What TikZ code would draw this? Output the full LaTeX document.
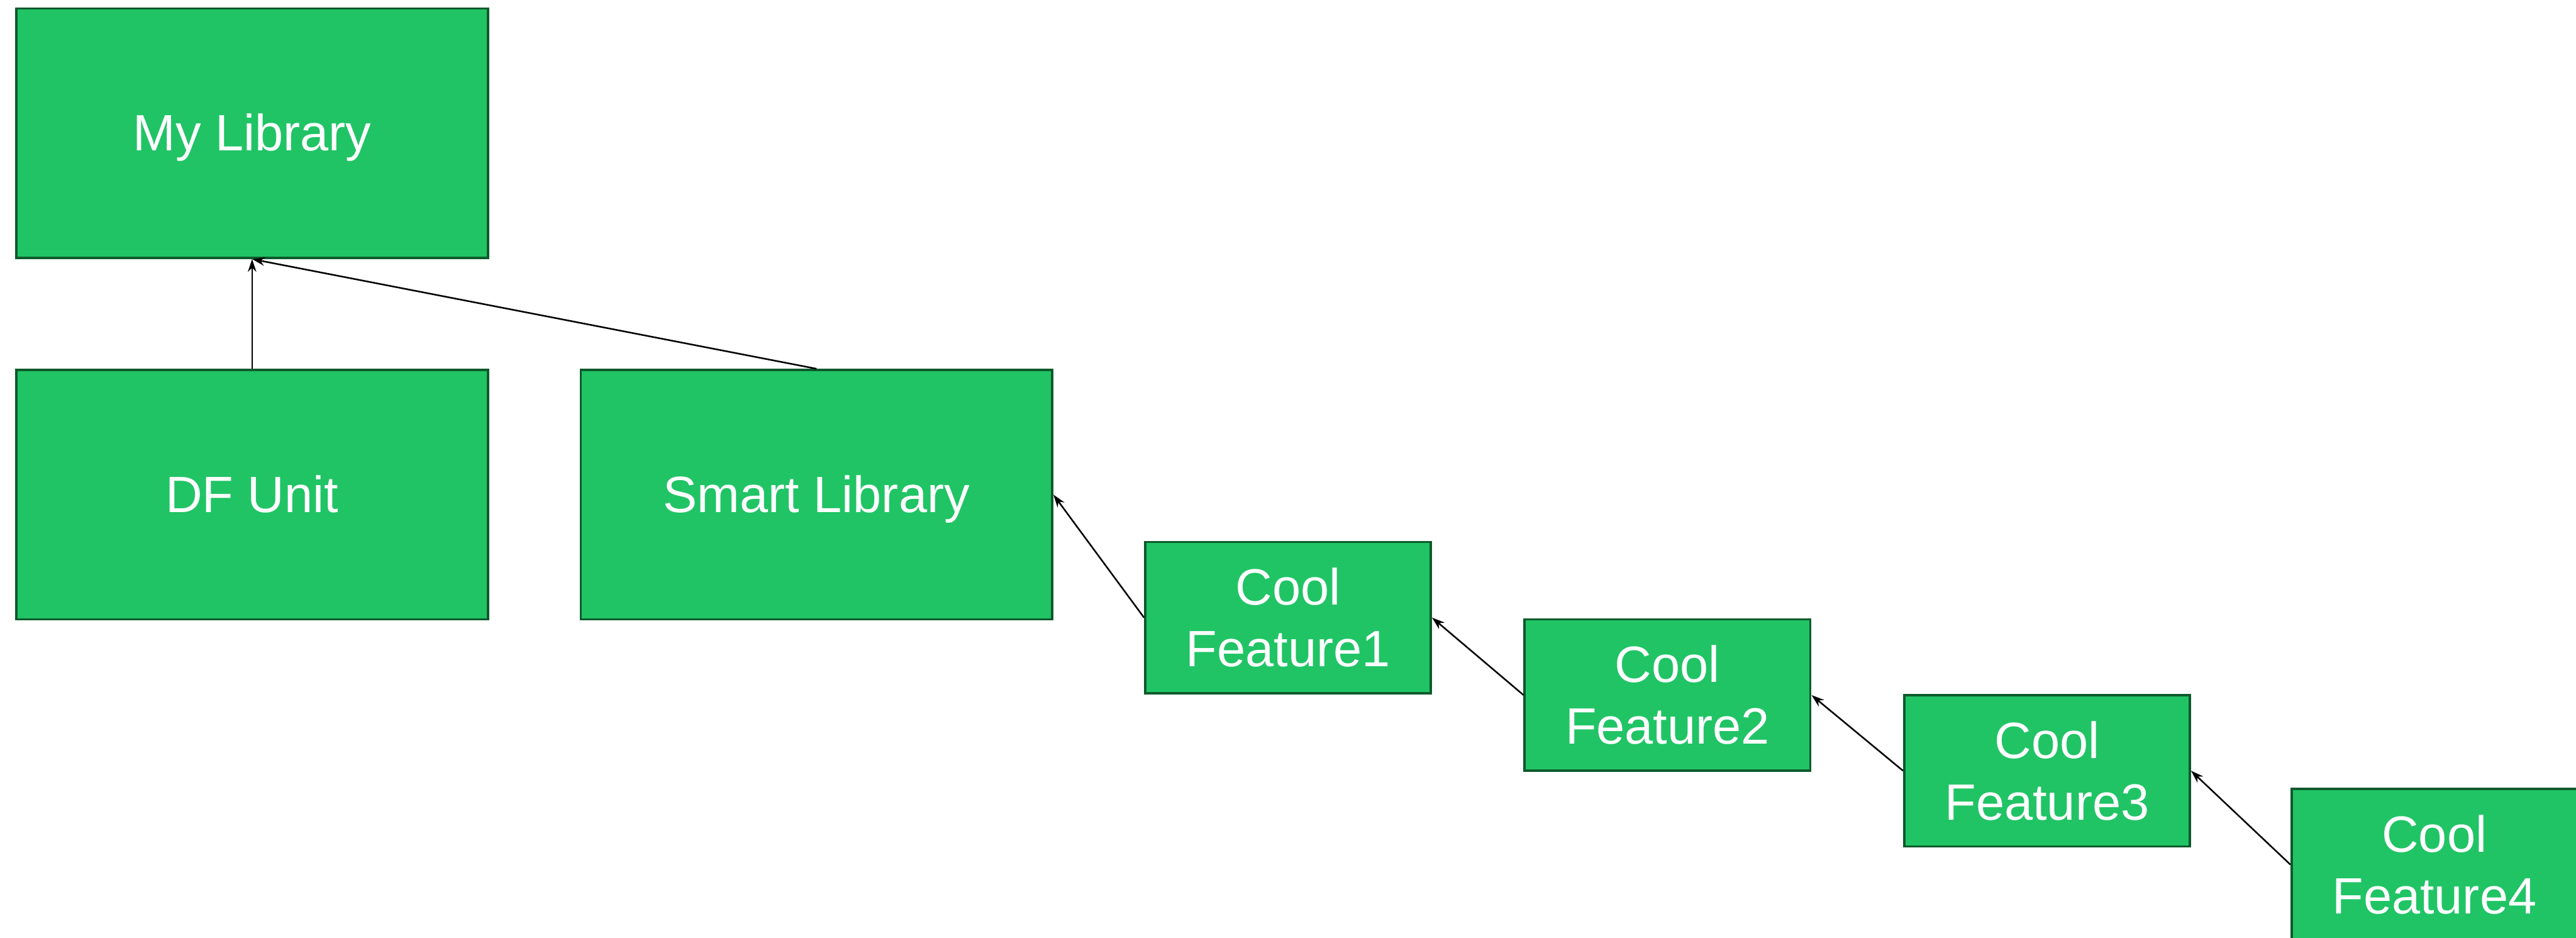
\documentclass[tikz,border=0pt]{standalone}
\usepackage{fontspec}
\setmainfont{Liberation Sans}
\usetikzlibrary{arrows.meta}
\definecolor{boxfill}{HTML}{20C465}
\definecolor{boxline}{HTML}{0D5A2C}
\tikzset{
  box/.style={draw=boxline, line width=1.1pt, fill=boxfill, text=white,
    font=\fontsize{24}{29}\selectfont, align=center, inner sep=0pt},
  bigbox/.style={box, minimum width=7.79cm, minimum height=4.12cm,
    text height=21.7pt, text depth=5.1pt},
  smallbox/.style={box, minimum width=4.72cm, minimum height=2.5cm},
  link/.style={draw=black, line width=0.75pt, -{Stealth[length=6pt,width=4pt]}}
}
\begin{document}
\begin{tikzpicture}
\useasboundingbox (0,0) rectangle (42.56,-15.49);
\begin{scope}
\clip (0,0) rectangle (42.56,-15.49);
\node[bigbox] (lib) at (4.165,-2.20) {My Library};
\node[bigbox] (df) at (4.165,-8.17) {DF Unit};
\node[bigbox] (smart) at (13.49,-8.17) {Smart Library};
\node[smallbox] (f1) at (21.28,-10.20) {Cool\\Feature1};
\node[smallbox] (f2) at (27.55,-11.48) {Cool\\Feature2};
\node[smallbox] (f3) at (33.82,-12.73) {Cool\\Feature3};
\node[smallbox] (f4) at (40.22,-14.28) {Cool\\Feature4};
\draw[link] (df.north) -- (lib.south);
\draw[link] (smart.north) -- (lib.south);
\draw[link] (f1.west) -- (smart.east);
\draw[link] (f2.west) -- (f1.east);
\draw[link] (f3.west) -- (f2.east);
\draw[link] (f4.west) -- (f3.east);
\end{scope}
\end{tikzpicture}
\end{document}
